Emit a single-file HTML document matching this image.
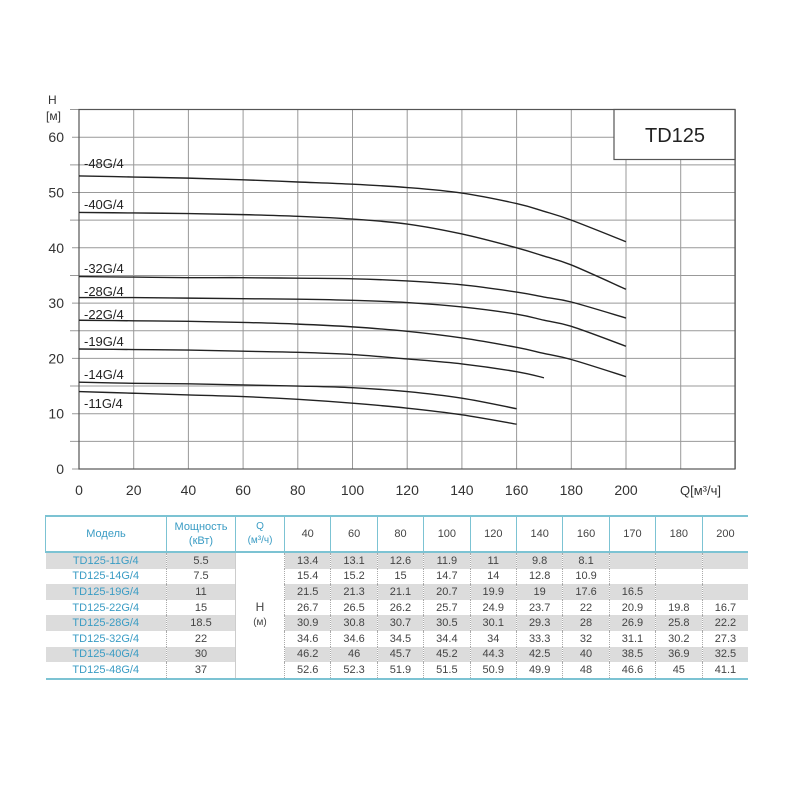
<!DOCTYPE html>
<html><head><meta charset="utf-8">
<style>
body{margin:0;background:#fff;width:800px;height:800px;overflow:hidden;font-family:"Liberation Sans",sans-serif;position:relative}
svg{position:absolute;left:0;top:0}
table{position:absolute;left:45px;top:515px;border-collapse:collapse;font-size:11px;color:#444;table-layout:fixed;width:703px}
td{height:15.6px;padding:0;text-align:center;border-left:1px dotted #aaa;line-height:14px;overflow:hidden;white-space:nowrap}
tr.h td{height:34px;border-left:1px solid #7cc3d3;border-top:2px solid #7cc3d3;border-bottom:2px solid #7cc3d3;font-size:11px}
tr.g td{background:#dcdcdc}
td.m{color:#3a9cc4;border-left:none}
td.q{background:#fff !important;border-left:1px solid #ccc;border-bottom:2px solid #7cc3d3}
tr.last td{border-bottom:2px solid #7cc3d3}
.hm{color:#3a9cc4}
</style></head><body>
<svg width="800" height="510" id="s" font-family="Liberation Sans, sans-serif"></svg>
<table>
<colgroup><col style="width:121px"><col style="width:69px"><col style="width:49px"><col span="10" style="width:46.4px"></colgroup>
<tr class="h"><td class="m">Модель</td><td class="hm">Мощность<br>(кВт)</td><td class="hm" style="font-size:10px">Q<br>(м³/ч)</td><td>40</td><td>60</td><td>80</td><td>100</td><td>120</td><td>140</td><td>160</td><td>170</td><td>180</td><td>200</td></tr>
<tr class="g"><td class="m">TD125-11G/4</td><td>5.5</td><td class="q" rowspan="8" style="font-size:12px">H<br><span style="font-size:10px">(м)</span></td><td>13.4</td><td>13.1</td><td>12.6</td><td>11.9</td><td>11</td><td>9.8</td><td>8.1</td><td></td><td></td><td></td></tr>
<tr><td class="m">TD125-14G/4</td><td>7.5</td><td>15.4</td><td>15.2</td><td>15</td><td>14.7</td><td>14</td><td>12.8</td><td>10.9</td><td></td><td></td><td></td></tr>
<tr class="g"><td class="m">TD125-19G/4</td><td>11</td><td>21.5</td><td>21.3</td><td>21.1</td><td>20.7</td><td>19.9</td><td>19</td><td>17.6</td><td>16.5</td><td></td><td></td></tr>
<tr><td class="m">TD125-22G/4</td><td>15</td><td>26.7</td><td>26.5</td><td>26.2</td><td>25.7</td><td>24.9</td><td>23.7</td><td>22</td><td>20.9</td><td>19.8</td><td>16.7</td></tr>
<tr class="g"><td class="m">TD125-28G/4</td><td>18.5</td><td>30.9</td><td>30.8</td><td>30.7</td><td>30.5</td><td>30.1</td><td>29.3</td><td>28</td><td>26.9</td><td>25.8</td><td>22.2</td></tr>
<tr><td class="m">TD125-32G/4</td><td>22</td><td>34.6</td><td>34.6</td><td>34.5</td><td>34.4</td><td>34</td><td>33.3</td><td>32</td><td>31.1</td><td>30.2</td><td>27.3</td></tr>
<tr class="g"><td class="m">TD125-40G/4</td><td>30</td><td>46.2</td><td>46</td><td>45.7</td><td>45.2</td><td>44.3</td><td>42.5</td><td>40</td><td>38.5</td><td>36.9</td><td>32.5</td></tr>
<tr class="last"><td class="m">TD125-48G/4</td><td>37</td><td>52.6</td><td>52.3</td><td>51.9</td><td>51.5</td><td>50.9</td><td>49.9</td><td>48</td><td>46.6</td><td>45</td><td>41.1</td></tr>
</table>
<script>
var s=document.getElementById('s'),h='';
function X(q){return 79+q*2.735}function Y(v){return 469-v*5.53}
for(var q=0;q<=240;q+=20)h+='<line x1="'+X(q)+'" y1="109.5" x2="'+X(q)+'" y2="469" stroke="#999" stroke-width="1"/>';
for(var v=0;v<=65;v+=5)h+='<line x1="'+(v%10?70:72)+'" y1="'+Y(v)+'" x2="735" y2="'+Y(v)+'" stroke="#999" stroke-width="1"/>';
h+='<rect x="79" y="109.5" width="656" height="359.5" fill="none" stroke="#555" stroke-width="1.2"/>';
for(var v=0;v<=60;v+=10)h+='<text x="64" y="'+(Y(v)+5)+'" font-size="14" text-anchor="end" fill="#333">'+v+'</text>';
for(var q=0;q<=200;q+=20)h+='<text x="'+X(q)+'" y="495" font-size="14" text-anchor="middle" fill="#333">'+q+'</text>';
h+='<text x="680" y="495" font-size="13" fill="#333">Q[м³/ч]</text>';
h+='<text x="48" y="104" font-size="12" fill="#333">H</text><text x="46" y="120" font-size="12" fill="#333">[м]</text>';
h+='<rect x="614" y="109.5" width="121" height="50" fill="#fff" stroke="#555" stroke-width="1.2"/><text x="675" y="142" font-size="20" text-anchor="middle" fill="#222">TD125</text>';
var C=[
["-48G/4",168,[[0,53],[20,52.8],[40,52.6],[60,52.3],[80,51.9],[100,51.5],[120,50.9],[140,49.9],[160,48],[170,46.6],[180,45],[200,41.1]]],
["-40G/4",209,[[0,46.4],[20,46.3],[40,46.2],[60,46],[80,45.7],[100,45.2],[120,44.3],[140,42.5],[160,40],[170,38.5],[180,36.9],[200,32.5]]],
["-32G/4",273,[[0,34.8],[20,34.7],[40,34.6],[60,34.6],[80,34.5],[100,34.4],[120,34],[140,33.3],[160,32],[170,31.1],[180,30.2],[200,27.3]]],
["-28G/4",296,[[0,31],[20,31],[40,30.9],[60,30.8],[80,30.7],[100,30.5],[120,30.1],[140,29.3],[160,28],[170,26.9],[180,25.8],[200,22.2]]],
["-22G/4",319,[[0,26.9],[20,26.8],[40,26.7],[60,26.5],[80,26.2],[100,25.7],[120,24.9],[140,23.7],[160,22],[170,20.9],[180,19.8],[200,16.7]]],
["-19G/4",346,[[0,21.7],[20,21.6],[40,21.5],[60,21.3],[80,21.1],[100,20.7],[120,19.9],[140,19],[160,17.6],[170,16.5]]],
["-14G/4",379,[[0,15.7],[20,15.5],[40,15.4],[60,15.2],[80,15],[100,14.7],[120,14],[140,12.8],[160,10.9]]],
["-11G/4",408,[[0,14],[20,13.7],[40,13.4],[60,13.1],[80,12.6],[100,11.9],[120,11],[140,9.8],[160,8.1]]]];
C.forEach(function(c){var p=c[2],d='M'+X(p[0][0])+','+Y(p[0][1]);
for(var i=0;i<p.length-1;i++){var p0=p[Math.max(i-1,0)],p1=p[i],p2=p[i+1],p3=p[Math.min(i+2,p.length-1)];
var a=[X(p1[0])+(X(p2[0])-X(p0[0]))/6,Y(p1[1])+(Y(p2[1])-Y(p0[1]))/6],b=[X(p2[0])-(X(p3[0])-X(p1[0]))/6,Y(p2[1])-(Y(p3[1])-Y(p1[1]))/6];
d+=' C'+a+' '+b+' '+X(p2[0])+','+Y(p2[1]);}
h+='<path d="'+d+'" fill="none" stroke="#222" stroke-width="1.4"/>';
h+='<text x="84" y="'+c[1]+'" font-size="13" fill="#222">'+c[0]+'</text>';});
s.innerHTML=h;
</script>
</body></html>
